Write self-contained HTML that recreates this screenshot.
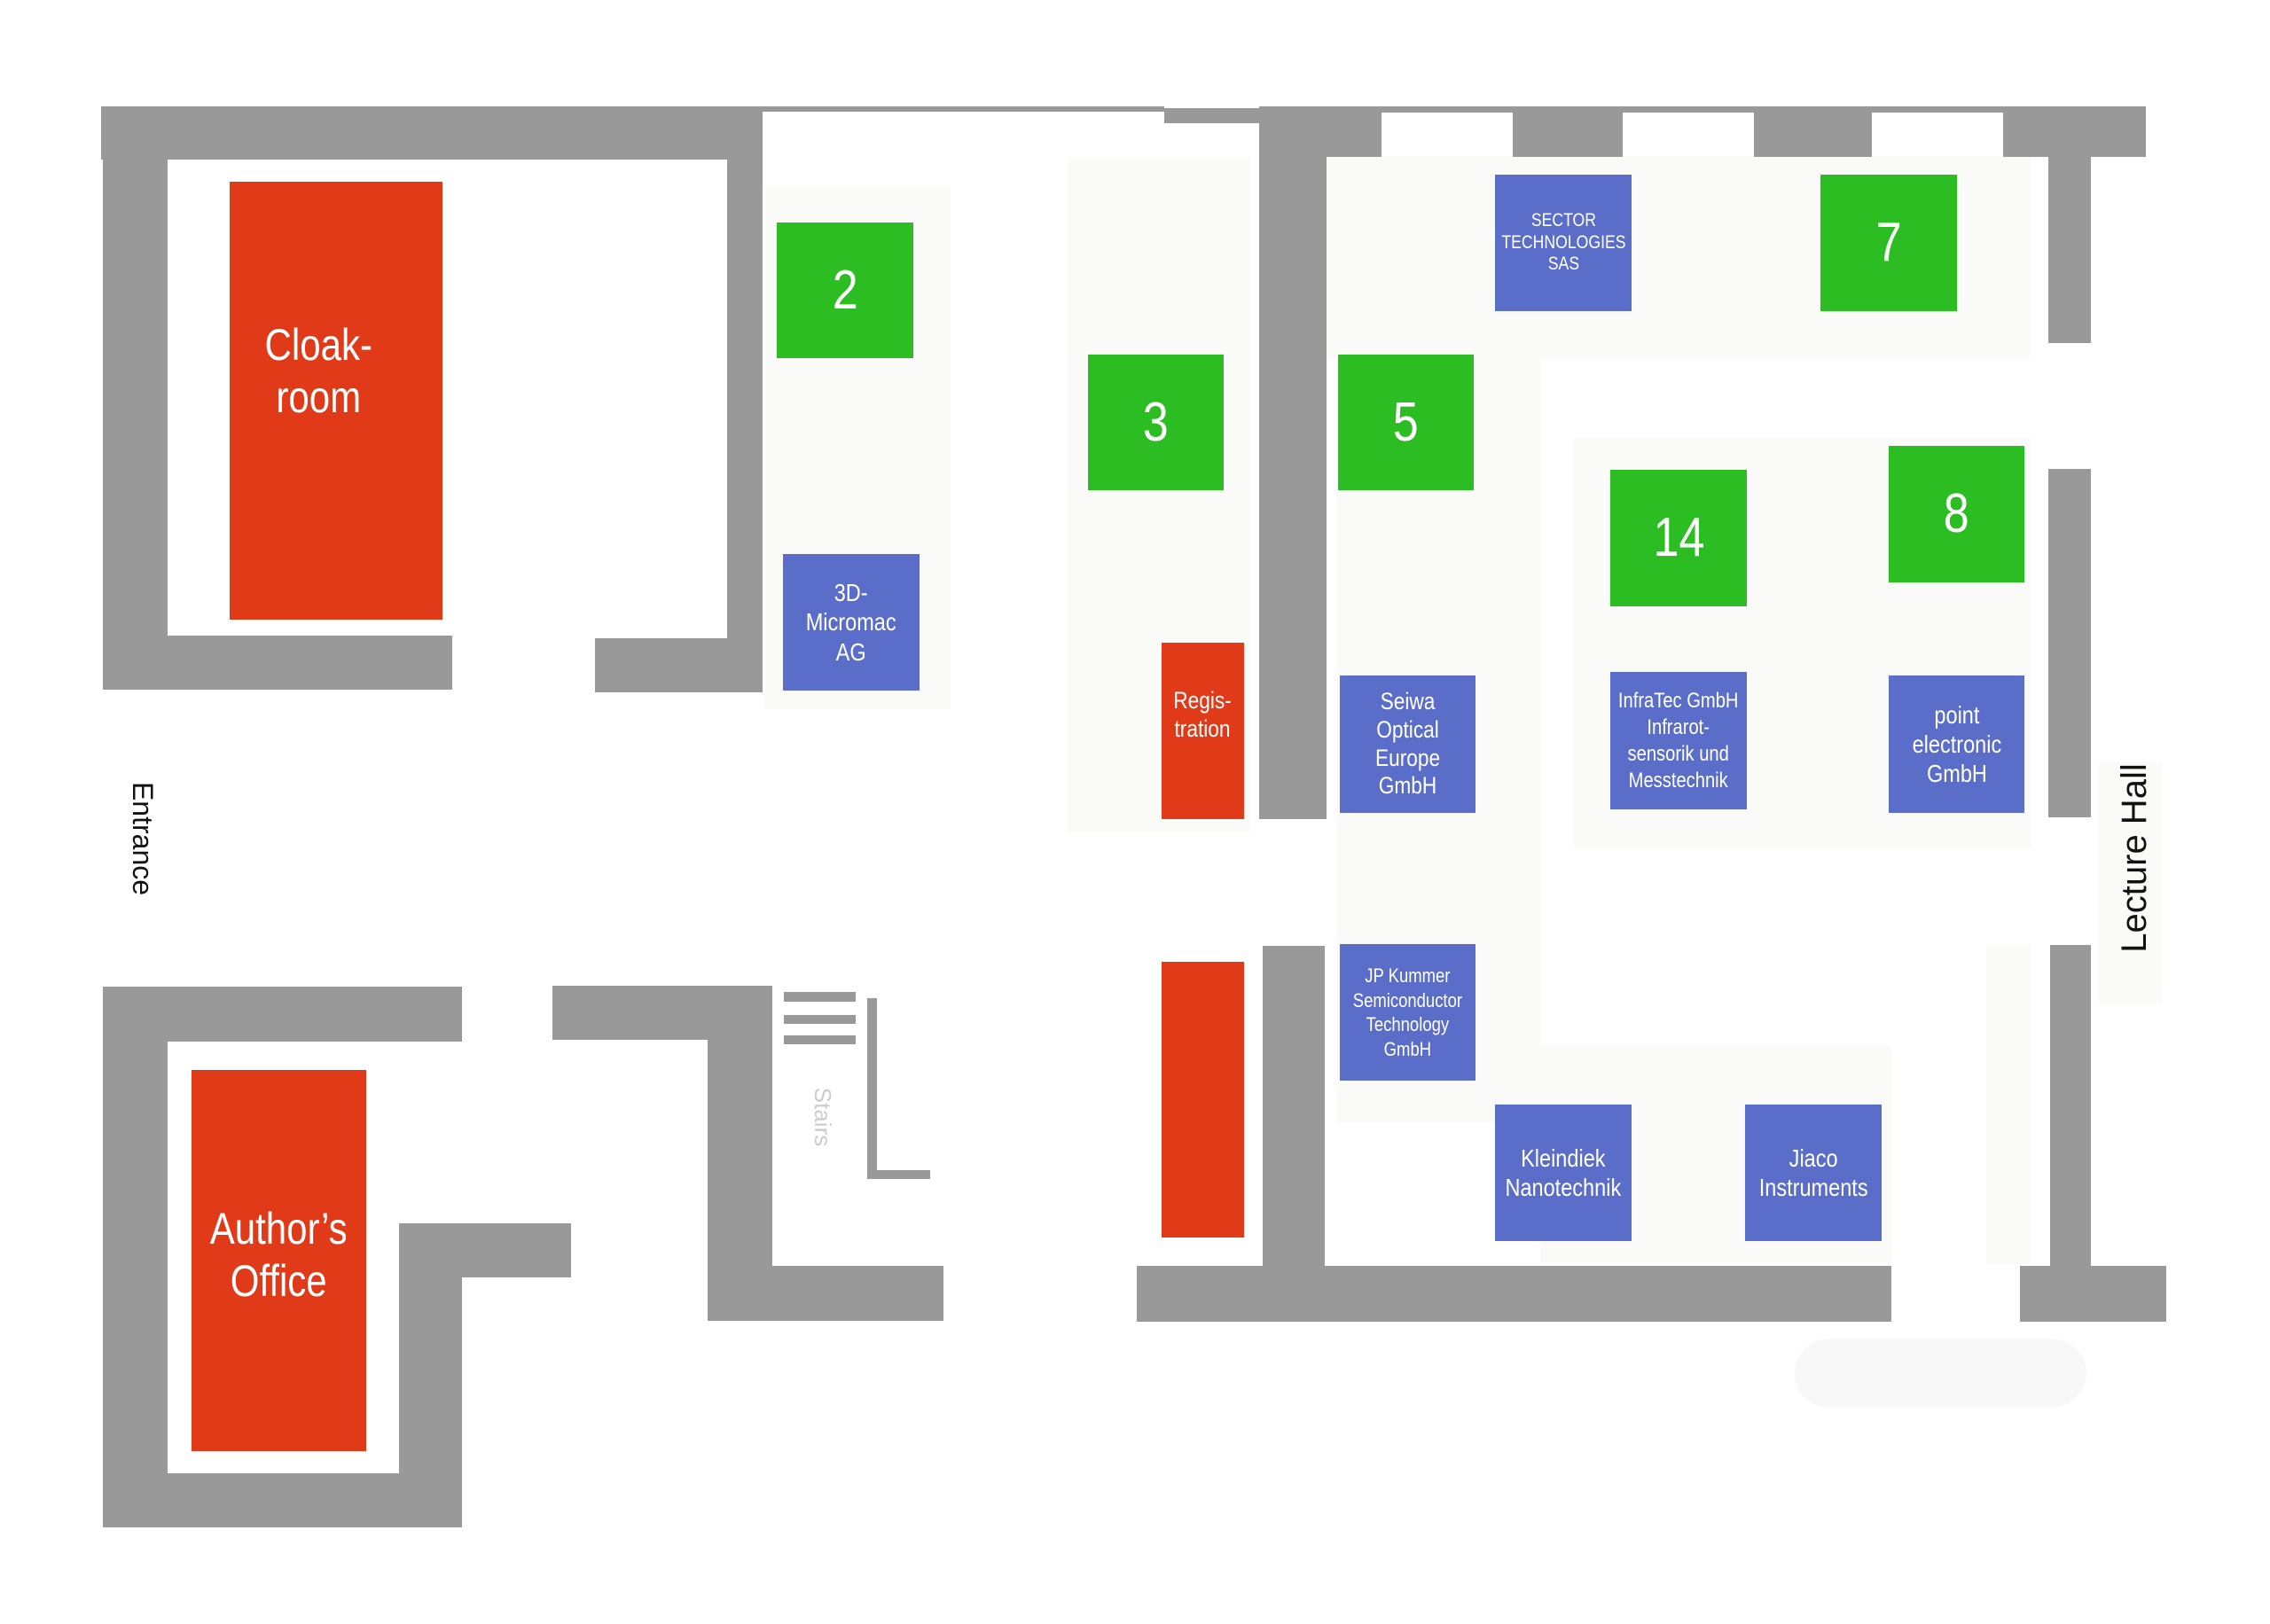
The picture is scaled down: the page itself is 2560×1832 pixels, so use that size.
<!DOCTYPE html>
<html><head><meta charset="utf-8"><style>
body{margin:0;width:2560px;height:1832px;background:#fff;position:relative;overflow:hidden}
div{position:absolute;box-sizing:border-box}
.w{background:#999}
.p{background:#fafbf9}
.b{display:flex;align-items:center;justify-content:center;text-align:center;color:#fff;font-family:"Liberation Sans Narrow","Liberation Sans",sans-serif;line-height:1.18}
.b span{display:inline-block;transform:scaleX(0.84);white-space:nowrap}
.r{background:#e03a19}.g{background:#2bbd22}.u{background:#5a6dc8}
.n{font-size:62px;font-family:"Liberation Sans",sans-serif}
</style></head><body>
<!-- faint panels -->
<div class="p" style="left:861px;top:210px;width:211px;height:590px"></div>
<div class="p" style="left:1204px;top:178px;width:206px;height:760px"></div>
<div class="p" style="left:1496px;top:177px;width:794px;height:227px"></div>
<div class="p" style="left:1508px;top:380px;width:229px;height:886px"></div>
<div class="p" style="left:1775px;top:494px;width:515px;height:463px"></div>
<div class="p" style="left:1737px;top:1179px;width:396px;height:245px"></div>
<div class="p" style="left:2366px;top:860px;width:72px;height:272px"></div>
<div class="p" style="left:2240px;top:1066px;width:50px;height:360px"></div>
<div class="p" style="left:2024px;top:1510px;width:329px;height:78px;border-radius:40px;background:#f8f8f8"></div>

<!-- walls left top -->
<div class="w" style="left:114px;top:120px;width:746px;height:60px"></div>
<div class="w" style="left:116px;top:120px;width:73px;height:658px"></div>
<div class="w" style="left:820px;top:120px;width:40px;height:661px"></div>
<div class="w" style="left:189px;top:717px;width:321px;height:61px"></div>
<div class="w" style="left:671px;top:720px;width:189px;height:61px"></div>
<div class="w" style="left:860px;top:120px;width:453px;height:6px"></div>
<div class="w" style="left:1313px;top:122px;width:107px;height:17px"></div>
<!-- right top -->
<div class="w" style="left:1420px;top:120px;width:1000px;height:7px"></div>
<div class="w" style="left:1420px;top:120px;width:76px;height:804px"></div>
<div class="w" style="left:1496px;top:120px;width:62px;height:57px"></div>
<div class="w" style="left:1706px;top:120px;width:124px;height:57px"></div>
<div class="w" style="left:1978px;top:120px;width:133px;height:57px"></div>
<div class="w" style="left:2259px;top:120px;width:161px;height:57px"></div>
<div class="w" style="left:2310px;top:177px;width:48px;height:210px"></div>
<div class="w" style="left:2310px;top:529px;width:48px;height:393px"></div>
<!-- lower left -->
<div class="w" style="left:116px;top:1113px;width:73px;height:610px"></div>
<div class="w" style="left:189px;top:1113px;width:332px;height:62px"></div>
<div class="w" style="left:450px;top:1380px;width:71px;height:343px"></div>
<div class="w" style="left:450px;top:1380px;width:194px;height:61px"></div>
<div class="w" style="left:189px;top:1662px;width:332px;height:61px"></div>
<!-- middle -->
<div class="w" style="left:623px;top:1112px;width:248px;height:61px"></div>
<div class="w" style="left:798px;top:1112px;width:73px;height:378px"></div>
<div class="w" style="left:798px;top:1428px;width:266px;height:62px"></div>
<div class="w" style="left:884px;top:1119px;width:81px;height:11px"></div>
<div class="w" style="left:884px;top:1145px;width:81px;height:10px"></div>
<div class="w" style="left:884px;top:1168px;width:81px;height:10px"></div>
<div class="w" style="left:978px;top:1126px;width:11px;height:204px"></div>
<div class="w" style="left:978px;top:1320px;width:71px;height:10px"></div>
<div style="left:880px;top:1242px;width:90px;height:36px;transform:rotate(90deg);color:#ccc;font:26px 'Liberation Sans',sans-serif;text-align:center">Stairs</div>
<!-- lower right -->
<div class="w" style="left:1424px;top:1067px;width:70px;height:361px"></div>
<div class="w" style="left:1282px;top:1428px;width:851px;height:63px"></div>
<div class="w" style="left:2312px;top:1066px;width:46px;height:362px"></div>
<div class="w" style="left:2278px;top:1428px;width:165px;height:63px"></div>

<!-- rooms & booths -->
<div class="b r" style="left:259px;top:205px;width:240px;height:494px;font-size:50px;align-items:flex-start;padding-top:155px;padding-right:40px"><span>Cloak-<br>room</span></div>
<div class="b r" style="left:216px;top:1207px;width:197px;height:430px;font-size:50px;align-items:flex-start;padding-top:150px"><span>Author’s<br>Office</span></div>
<div class="b r" style="left:1310px;top:725px;width:93px;height:199px;font-size:27px;align-items:flex-start;padding-top:50px"><span>Regis-<br>tration</span></div>
<div class="b r" style="left:1310px;top:1085px;width:93px;height:311px"></div>

<div class="b g n" style="left:876px;top:251px;width:154px;height:153px"><span>2</span></div>
<div class="b g n" style="left:1227px;top:400px;width:153px;height:153px"><span>3</span></div>
<div class="b g n" style="left:1509px;top:400px;width:153px;height:153px"><span>5</span></div>
<div class="b g n" style="left:2053px;top:197px;width:154px;height:154px"><span>7</span></div>
<div class="b g n" style="left:1816px;top:530px;width:154px;height:154px"><span>14</span></div>
<div class="b g n" style="left:2130px;top:503px;width:153px;height:154px"><span>8</span></div>

<div class="b u" style="left:883px;top:625px;width:154px;height:154px;font-size:28px"><span>3D-<br>Micromac<br>AG</span></div>
<div class="b u" style="left:1686px;top:197px;width:154px;height:154px;font-size:21px"><span>SECTOR<br>TECHNOLOGIES<br>SAS</span></div>
<div class="b u" style="left:1511px;top:762px;width:153px;height:155px;font-size:27px"><span>Seiwa<br>Optical<br>Europe<br>GmbH</span></div>
<div class="b u" style="left:1816px;top:758px;width:154px;height:155px;font-size:24px;line-height:1.25"><span>InfraTec GmbH<br>Infrarot-<br>sensorik und<br>Messtechnik</span></div>
<div class="b u" style="left:2130px;top:762px;width:153px;height:155px;font-size:28px"><span>point<br>electronic<br>GmbH</span></div>
<div class="b u" style="left:1511px;top:1065px;width:153px;height:154px;font-size:22px;line-height:1.25"><span>JP Kummer<br>Semiconductor<br>Technology<br>GmbH</span></div>
<div class="b u" style="left:1686px;top:1246px;width:154px;height:154px;font-size:28px"><span>Kleindiek<br>Nanotechnik</span></div>
<div class="b u" style="left:1968px;top:1246px;width:154px;height:154px;font-size:28px"><span>Jiaco<br>Instruments</span></div>

<!-- labels -->
<div style="left:91px;top:926px;width:140px;height:40px;transform:rotate(90deg);font:32px 'Liberation Sans',sans-serif;color:#111;text-align:center;line-height:40px">Entrance</div>
<div style="left:2292px;top:945px;width:230px;height:46px;transform:rotate(-90deg);font:40px 'Liberation Sans',sans-serif;color:#111;text-align:center;line-height:46px;white-space:nowrap">Lecture Hall</div>
</body></html>
